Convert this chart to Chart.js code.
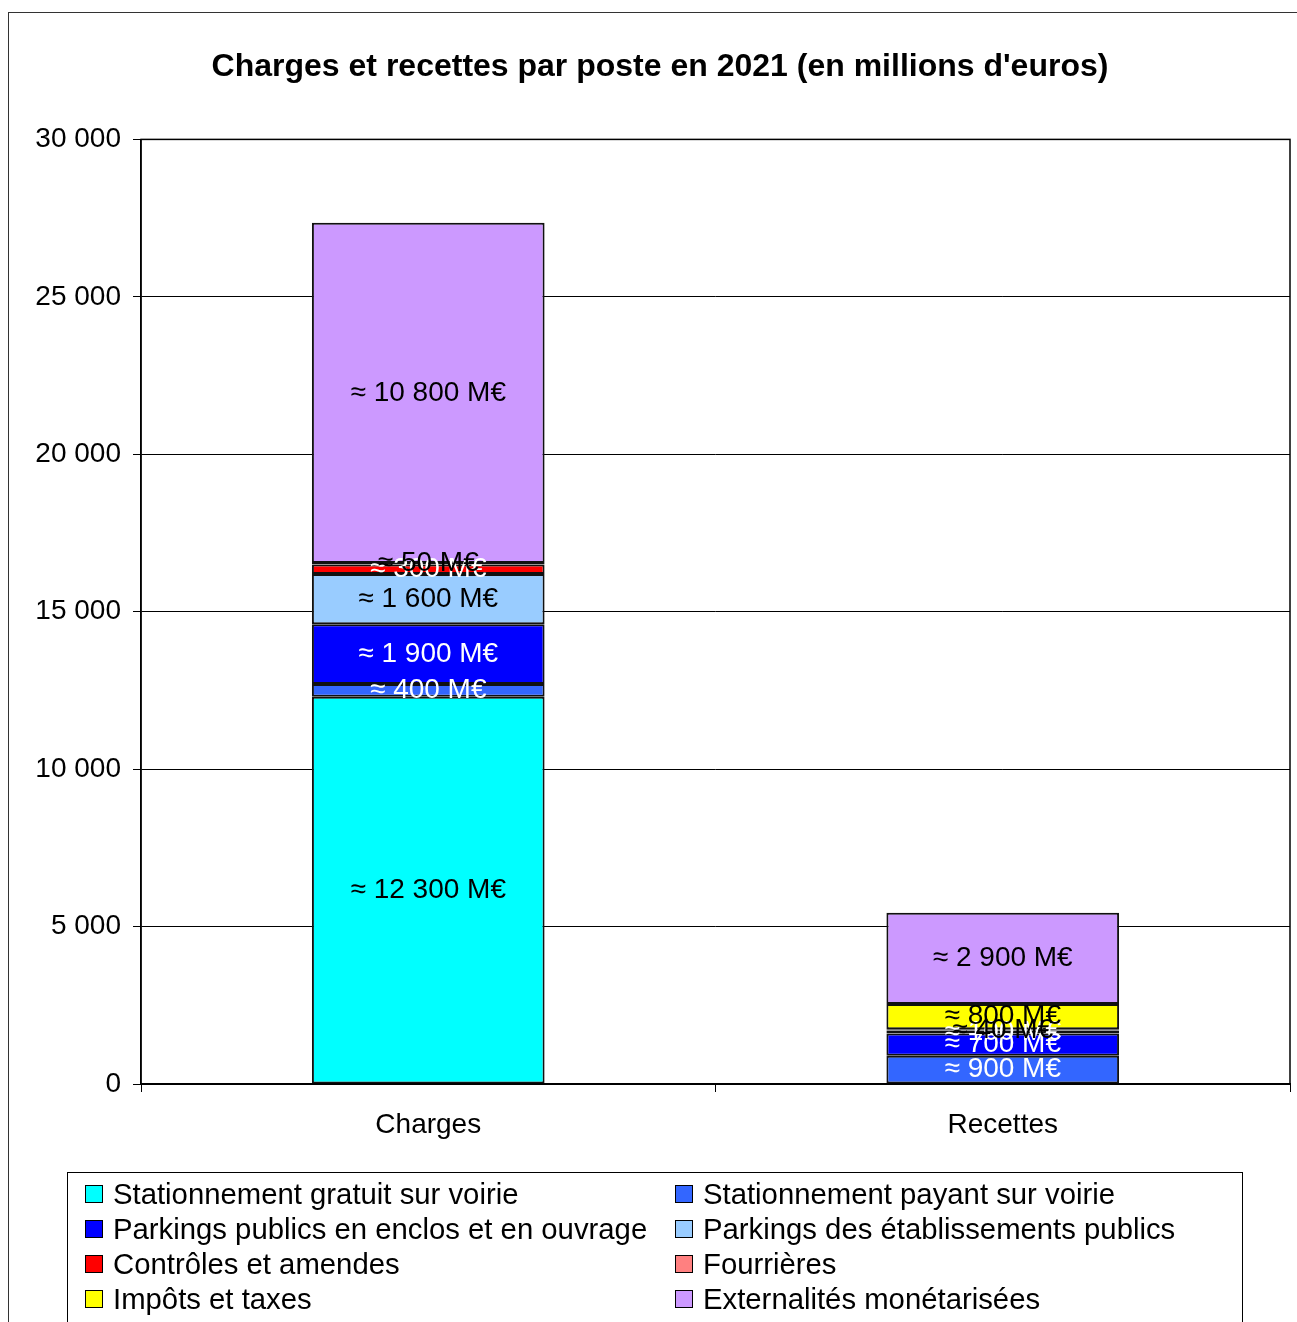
<!DOCTYPE html>
<html lang="fr">
<head>
<meta charset="utf-8">
<title>Charges et recettes par poste en 2021</title>
<script src="https://cdn.jsdelivr.net/npm/chart.js@4.4.1/dist/chart.umd.min.js"></script>
<style>
  html, body { margin: 0; padding: 0; background: #fff; }
  body { width: 1297px; height: 1322px; position: relative; overflow: hidden; font-family: "Liberation Sans", Arial, sans-serif; }
  #frame { position: absolute; left: 8px; top: 12px; width: 1400px; height: 1400px; border: 1.5px solid #333; box-sizing: border-box; }
  #wrap { position: absolute; left: 0; top: 0; width: 1297px; height: 1322px; }
  #legend { position: absolute; left: 67px; top: 1172px; width: 1176px; height: 200px; border: 1px solid #000; box-sizing: border-box;
            display: grid; grid-template-columns: 590px 570px; grid-auto-rows: 35px; padding: 3px 0 0 17px; font-size: 29.3px; color: #000; }
  #legend .item { display: flex; align-items: center; white-space: nowrap; }
  #legend .box { width: 16px; height: 16px; border: 1.5px solid #000; margin-right: 10px; flex: none; }
</style>
</head>
<body>
<div id="frame"></div>
<div id="wrap"><canvas id="chart"></canvas></div>
<div id="legend"></div>
<script>
// categories
const categories = ['Charges', 'Recettes'];

// series (millions d'euros) : [Charges, Recettes]
const seriesNames = [
  'Stationnement gratuit sur voirie',
  'Stationnement payant sur voirie',
  'Parkings publics en enclos et en ouvrage',
  'Parkings des établissements publics',
  'Contrôles et amendes',
  'Fourrières',
  'Impôts et taxes',
  'Externalités monétarisées'
];
const gratuitVoirie   = [12300, null];
const payantVoirie    = [400, 900];
const parkingsPublics = [1900, 700];
const parkingsEtab    = [1600, null];
const controles       = [300, 100];
const fourrieres      = [50, 40];
const impots          = [null, 800];
const externalites    = [10800, 2900];

const seriesValues = [gratuitVoirie, payantVoirie, parkingsPublics, parkingsEtab, controles, fourrieres, impots, externalites];
const seriesColors = ['#00FFFF', '#3366FF', '#0000FF', '#99CCFF', '#FF0000', '#FF8080', '#FFFF00', '#CC99FF'];
const labelColors  = ['#000', '#fff', '#fff', '#000', '#fff', '#000', '#000', '#000'];

// y axis ticks
const yMin = 0, yMax = 30000, yStep = 5000;

const FONT = '"Liberation Sans", Arial, sans-serif';
const fmt = v => String(Math.round(v)).replace(/\B(?=(\d{3})+(?!\d))/g, ' ');

const datasets = seriesNames.map((name, i) => ({
  label: name,
  data: seriesValues[i],
  backgroundColor: seriesColors[i],
  borderColor: '#111',
  borderWidth: 2,
  borderSkipped: false,
  barPercentage: 0.405,
  categoryPercentage: 1
}));

// labels in the middle of each segment
const segmentLabels = {
  id: 'segmentLabels',
  afterDatasetsDraw(chart) {
    const ctx = chart.ctx;
    ctx.save();
    ctx.font = '28px ' + FONT;
    ctx.textAlign = 'center';
    ctx.textBaseline = 'middle';
    chart.data.datasets.forEach((ds, i) => {
      const meta = chart.getDatasetMeta(i);
      meta.data.forEach((el, j) => {
        const v = ds.data[j];
        if (!v) return;
        ctx.fillStyle = labelColors[i];
        ctx.fillText('≈ ' + fmt(v) + ' M€', el.x, (el.y + el.base) / 2);
      });
    });
    ctx.restore();
  }
};

const plotFrame = {
  id: 'plotFrame',
  afterDraw(chart) {
    const a = chart.chartArea, ctx = chart.ctx;
    ctx.save();
    ctx.strokeStyle = '#000';
    ctx.lineWidth = 1.5;
    ctx.strokeRect(a.left, a.top, a.right - a.left, a.bottom - a.top);
    ctx.restore();
  }
};

new Chart(document.getElementById('chart'), {
  type: 'bar',
  data: { labels: categories, datasets },
  options: {
    responsive: true,
    maintainAspectRatio: false,
    animation: false,
    layout: { padding: { left: 30, right: 7, top: 0, bottom: 0 } },
    plugins: {
      legend: { display: false },
      tooltip: { enabled: false },
      title: {
        display: true,
        text: "Charges et recettes par poste en 2021 (en millions d'euros)",
        color: '#000',
        font: { family: FONT, size: 32, weight: 'bold' },
        padding: { top: 48, bottom: 53 }
      }
    },
    scales: {
      x: {
        stacked: true,
        afterFit(s) { s.height = 238; },
        ticks: { color: '#000', font: { family: FONT, size: 28 }, padding: 16 },
        grid: { drawOnChartArea: false, color: '#000', tickLength: 8, offset: true },
        border: { color: '#000', width: 2 }
      },
      y: {
        stacked: true,
        min: yMin, max: yMax,
        afterFit(s) { s.width = 111; },
        ticks: { stepSize: yStep, color: '#000', font: { family: FONT, size: 28 }, padding: 12, callback: v => fmt(v) },
        grid: { color: '#000', lineWidth: 1, tickLength: 8 },
        border: { color: '#000', width: 1.5 }
      }
    }
  },
  plugins: [segmentLabels, plotFrame]
});

// legend
const legend = document.getElementById('legend');
seriesNames.forEach((name, i) => {
  const item = document.createElement('div');
  item.className = 'item';
  const box = document.createElement('span');
  box.className = 'box';
  box.style.background = seriesColors[i];
  const txt = document.createElement('span');
  txt.textContent = name;
  item.appendChild(box);
  item.appendChild(txt);
  legend.appendChild(item);
});
</script>
</body>
</html>
